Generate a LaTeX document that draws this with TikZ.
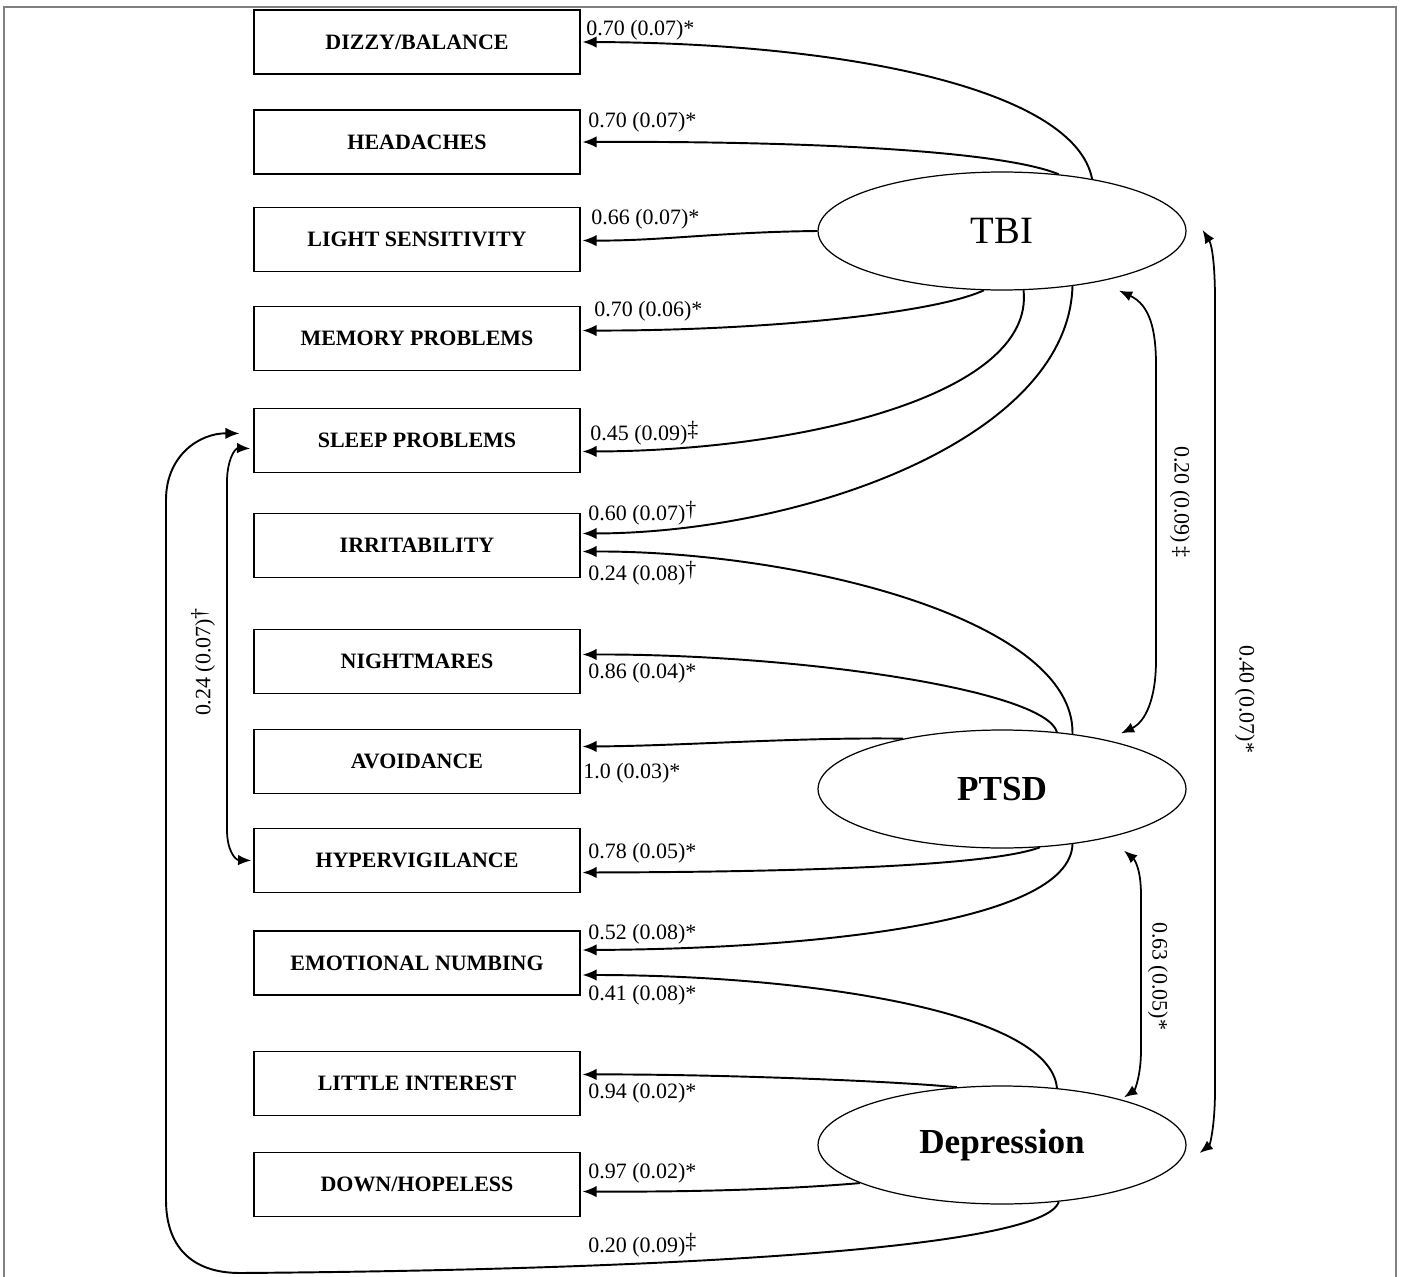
\documentclass[tikz,border=0pt]{standalone}
\usepackage{fontspec}
\setmainfont{Liberation Serif}
\usetikzlibrary{arrows.meta,calc,shapes.geometric}
\newcommand{\sigdag}{\raisebox{.4ex}{†}}
\newcommand{\sigddag}{\raisebox{.4ex}{‡}}

\begin{document}
\begin{tikzpicture}[x=0.02cm,y=-0.02cm]
\tikzstyle{every node}+=[inner sep=0pt]
\tikzstyle{item}=[draw, line width=0.9pt, minimum width=6.52cm, minimum height=1.28cm, font=\fontsize{12.5}{14}\selectfont\bfseries]
\tikzstyle{factor}=[draw, ellipse, line width=0.7pt, minimum width=7.36cm, minimum height=2.36cm]
\tikzstyle{load}=[line width=1.1pt, -{Latex[length=8pt,width=6.5pt]}, shorten >=1pt]
\tikzstyle{cov}=[line width=1pt, {Latex[length=7.5pt,width=6pt]}-{Latex[length=7.5pt,width=6pt]}]
\tikzstyle{coef}=[font=\fontsize{12.5}{14}\selectfont, anchor=west]
\useasboundingbox (0,0) rectangle (1403,1277);
\draw [gray, line width=0.6pt] (4,1277) -- (4,7) -- (1396,7) -- (1396,1277);

% observed symptoms
\node [item] (dizzy) at (417,42) {DIZZY/BALANCE};
\node [item] (headaches) at (417,142) {HEADACHES};
\node [item] (light) at (417,239.5) {LIGHT SENSITIVITY};
\node [item] (memory) at (417,338.5) {MEMORY PROBLEMS};
\node [item] (sleep) at (417,440.5) {SLEEP PROBLEMS};
\node [item] (irrit) at (417,545.5) {IRRITABILITY};
\node [item] (nightmares) at (417,661.5) {NIGHTMARES};
\node [item] (avoidance) at (417,761.5) {AVOIDANCE};
\node [item] (hyper) at (417,860.5) {HYPERVIGILANCE};
\node [item] (emot) at (417,963) {EMOTIONAL NUMBING};
\node [item] (little) at (417,1083.5) {LITTLE INTEREST};
\node [item] (down) at (417,1184.5) {DOWN/HOPELESS};

% latent factors
\node [factor] (tbi) at (1002,231) {\fontsize{22}{24}\selectfont TBI};
\node [factor] (ptsd) at (1002,789) {\fontsize{20}{24}\selectfont\bfseries PTSD};
\node [factor] (depr) at (1002,1145) {\fontsize{20}{24}\selectfont\bfseries Depression};

% TBI loadings
\draw [load] (tbi.30) .. controls (1075,90) and (850,43) .. (dizzy.east);
\node [coef] (c1) at (586,30) {0.70 (0.07)*};
\draw [load] (tbi.45) .. controls (1000,150) and (800,141) .. (headaches.east);
\node [coef] (c2) at (588,122) {0.70 (0.07)*};
\draw [load] (tbi.west) .. controls (720,232) and (660,241) .. ($(light.east)+(0,1)$);
\node [coef] (c3) at (591,219) {0.66 (0.07)*};
\draw [load] (tbi.-107) .. controls (930,315) and (750,331) .. ($(memory.east)+(0,-8)$);
\node [coef] (c4) at (594,311) {0.70 (0.06)*};
\draw [load] (tbi.-70) .. controls (1035,395) and (800,451) .. ($(sleep.east)+(0,11)$);
\node [coef] (c5) at (590,433) {0.45 (0.09)\sigddag};
\draw [load] (tbi.-38) .. controls (1068,440) and (800,533) .. ($(irrit.east)+(0,-12)$);
\node [coef] (c6) at (588,513) {0.60 (0.07)\sigdag};

% PTSD loadings
\draw [load] (ptsd.38) .. controls (1075,620) and (800,551) .. ($(irrit.east)+(0,6)$);
\node [coef] (c7) at (588,573) {0.24 (0.08)\sigdag};
\draw [load] (ptsd.46) .. controls (1045,690) and (800,654) .. ($(nightmares.east)+(0,-7)$);
\node [coef] (c8) at (588,673) {0.86 (0.04)*};
\draw [load] (ptsd.153) .. controls (800,737) and (680,746) .. ($(avoidance.east)+(0,-15)$);
\node [coef] (c9) at (583,773) {1.0 (0.03)*};
\draw [load] (ptsd.-57) .. controls (990,866) and (800,872) .. ($(hyper.east)+(0,12)$);
\node [coef] (c10) at (588,853) {0.78 (0.05)*};
\draw [load] (ptsd.-38) .. controls (1070,925) and (800,949) .. ($(emot.east)+(0,-13)$);
\node [coef] (c11) at (588,934) {0.52 (0.08)*};

% Depression loadings
\draw [load] (depr.46) .. controls (1050,1010) and (800,975) .. ($(emot.east)+(0,12)$);
\node [coef] (c12) at (588,995) {0.41 (0.08)*};
\draw [load] (depr.128) .. controls (880,1080) and (700,1074) .. ($(little.east)+(0,-9)$);
\node [coef] (c13) at (588,1093) {0.94 (0.02)*};
\draw [load] (depr.195) .. controls (780,1190) and (680,1192) .. ($(down.east)+(0,7)$);
\node [coef] (c14) at (588,1173) {0.97 (0.02)*};
\draw [load] (depr.-45) .. controls (1045,1250) and (650,1270) .. (240,1273)
  .. controls (190,1273) and (166,1245) .. (166,1200) -- (166,500)
  .. controls (166,455) and (200,433) .. ($(sleep.west)+(-12,-7)$);
\node [coef] (c15) at (588,1245) {0.20 (0.09)\sigddag};

% correlations
\draw [cov] ($(sleep.west)+(-3,8)$) .. controls (235,448) and (227,460) .. (227,482)
  -- (227,830) .. controls (227,850) and (235,860) .. ($(hyper.west)+(-2,0)$);
\node [coef, rotate=90, anchor=center] (r1) at (203,662) {0.24 (0.07)\sigdag};
\draw [cov] ($(tbi.south)+(117,0)$) .. controls (1150,305) and (1156,330) .. (1156,365)
  -- (1156,660) .. controls (1156,700) and (1145,722) .. ($(ptsd.north)+(119,4)$);
\node [coef, rotate=-90, anchor=center] (r2) at (1180,502) {0.20 (0.09)\,‡};
\draw [cov] ($(ptsd.south)+(122,2)$) .. controls (1135,860) and (1141,870) .. (1141,895)
  -- (1141,1050) .. controls (1141,1075) and (1135,1090) .. ($(depr.north)+(122,12)$);
\node [coef, rotate=-90, anchor=center] (r3) at (1158,976) {0.63 (0.05)*};
\draw [cov] ($(tbi.east)+(16,-1)$) .. controls (1212,245) and (1215,265) .. (1215,300)
  -- (1215,1090) .. controls (1215,1125) and (1210,1145) .. ($(depr.east)+(13,8)$);
\node [coef, rotate=-90, anchor=center] (r4) at (1245,699) {0.40 (0.07)*};
\end{tikzpicture}
\end{document}
